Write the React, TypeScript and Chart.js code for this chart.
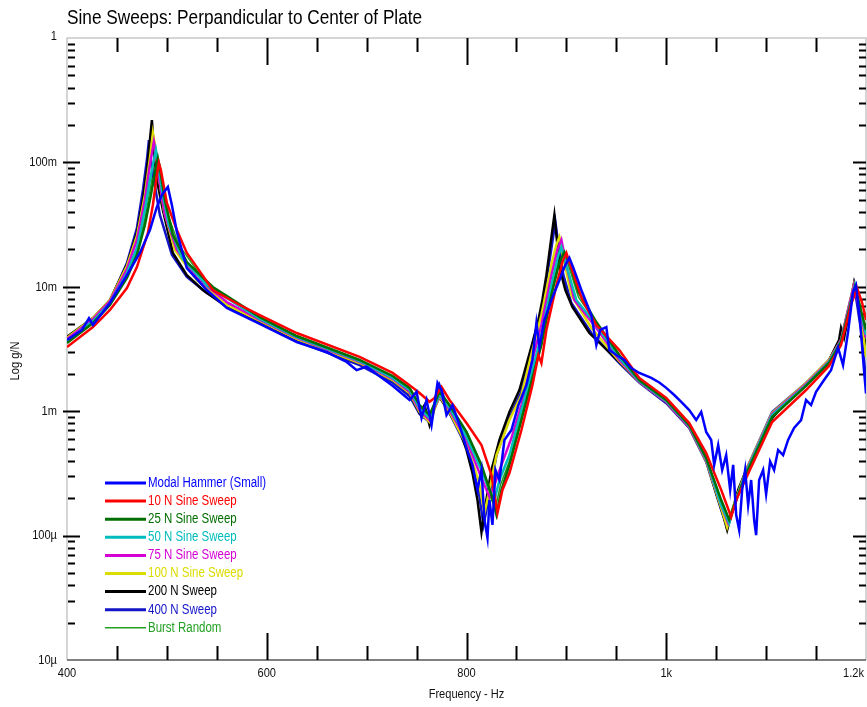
import React, { useEffect, useRef } from "react";
import { Chart, registerables } from "chart.js";

Chart.register(...registerables);

type Pt = [number, number];

// ---- Data (frequency Hz, response g/N) ----
const modalHammer: Pt[] = [
  [400, 0.00374], [415, 0.0045], [422, 0.0056], [426, 0.00493], [443, 0.00741], [460, 0.0124],
  [473, 0.0187], [483, 0.0286], [490, 0.0438], [495, 0.0547], [501, 0.0634], [505, 0.0455],
  [510, 0.0276], [520, 0.0141], [540, 0.00942], [560, 0.00676], [593, 0.00504], [630, 0.0036],
  [660, 0.00299], [680, 0.00249], [690, 0.00214], [700, 0.00228], [726, 0.0016], [743, 0.00123],
  [750, 0.00143], [755, 0.000882], [760, 0.00123], [765, 0.000774], [771, 0.00169], [775, 0.00148],
  [780, 0.000932], [786, 0.00112], [793, 0.000774], [800, 0.000506], [806, 0.00037], [811, 0.000233],
  [815, 0.000337], [818, 0.000134], [821, 0.0000957], [823, 0.000193], [826, 0.000122], [829, 0.000337],
  [833, 0.00028], [838, 0.000587], [845, 0.000706], [852, 0.00112], [860, 0.00162], [866, 0.00258],
  [870, 0.00512], [873, 0.00328], [878, 0.00541], [885, 0.00783], [893, 0.0113], [899, 0.015],
  [903, 0.0171], [907, 0.0142], [915, 0.00942], [925, 0.00593], [930, 0.0034], [934, 0.0045],
  [940, 0.00475], [943, 0.0031], [950, 0.00283], [958, 0.00258], [965, 0.00222], [973, 0.00203],
  [985, 0.00185], [993, 0.0017], [1000, 0.00154], [1008, 0.00135], [1015, 0.00119], [1023, 0.00102],
  [1030, 0.000849], [1035, 0.000986], [1040, 0.000681], [1045, 0.000587], [1048, 0.00037], [1052, 0.000535],
  [1056, 0.000337], [1060, 0.000444], [1064, 0.000233], [1067, 0.00037], [1070, 0.000147], [1073, 0.000111],
  [1076, 0.000233], [1079, 0.000337], [1082, 0.000176], [1085, 0.00028], [1088, 0.000134], [1090, 0.000101],
  [1093, 0.00028], [1097, 0.000337], [1100, 0.000215], [1104, 0.000395], [1108, 0.000337], [1112, 0.000488],
  [1117, 0.000444], [1122, 0.000587], [1128, 0.000733], [1135, 0.000849], [1140, 0.00123], [1145, 0.00112],
  [1150, 0.00143], [1158, 0.00178], [1165, 0.00214], [1172, 0.00325], [1177, 0.00235], [1182, 0.0043],
  [1187, 0.00908], [1190, 0.0103], [1194, 0.00541], [1198, 0.00214], [1200, 0.00139],
];

const sweep10N: Pt[] = [
  [400, 0.00328], [426, 0.00475], [443, 0.00651], [460, 0.00977], [470, 0.0144], [481, 0.0271],
  [486, 0.0455], [490, 0.0792], [492, 0.0989], [494, 0.0869], [500, 0.0472], [510, 0.0286],
  [520, 0.0187], [546, 0.00942], [573, 0.00714], [593, 0.00593], [630, 0.00425], [693, 0.00273],
  [726, 0.00203], [743, 0.00162], [753, 0.0014], [763, 0.00119], [768, 0.00128], [775, 0.00157],
  [783, 0.00123], [800, 0.000803], [815, 0.000535], [825, 0.000307], [831, 0.000152], [836, 0.000233],
  [843, 0.000318], [855, 0.000706], [866, 0.00162], [872, 0.00283], [875, 0.00244], [880, 0.0045],
  [890, 0.0103], [896, 0.0158], [900, 0.0187], [904, 0.015], [916, 0.00783], [930, 0.00493],
  [953, 0.0031], [973, 0.00185], [1000, 0.00128], [1023, 0.000803], [1040, 0.000461], [1055, 0.000233],
  [1065, 0.000141], [1070, 0.000193], [1080, 0.00029], [1093, 0.000488], [1106, 0.000818], [1140, 0.00148],
  [1163, 0.00231], [1175, 0.0034], [1185, 0.0072], [1191, 0.00977], [1196, 0.0075], [1200, 0.00541],
];

const sweep25N: Pt[] = [
  [400, 0.00353], [426, 0.00512], [443, 0.00714], [460, 0.0118], [470, 0.018], [478, 0.0314],
  [484, 0.0547], [488, 0.0837], [491, 0.108], [493, 0.0902], [498, 0.0499], [506, 0.0261],
  [520, 0.0158], [546, 0.00996], [593, 0.00571], [630, 0.00402], [693, 0.00258], [726, 0.00192],
  [743, 0.00154], [753, 0.00112], [763, 0.000932], [773, 0.00143], [783, 0.00112], [800, 0.000681],
  [815, 0.00037], [825, 0.000212], [830, 0.000147], [835, 0.000233], [843, 0.00037], [855, 0.000849],
  [866, 0.00185], [875, 0.0034], [885, 0.00859], [893, 0.0158], [898, 0.019], [903, 0.0158],
  [912, 0.00908], [930, 0.00521], [953, 0.00283], [973, 0.00178], [1000, 0.00123], [1023, 0.000774],
  [1040, 0.000421], [1055, 0.000193], [1063, 0.000134], [1068, 0.000176], [1080, 0.000313], [1106, 0.000898],
  [1140, 0.0016], [1163, 0.00244], [1175, 0.0036], [1189, 0.00996], [1200, 0.0045],
];

const sweep50N: Pt[] = [
  [400, 0.00366], [426, 0.00531], [443, 0.00741], [460, 0.0129], [470, 0.0205], [478, 0.0414],
  [483, 0.0722], [487, 0.1045], [489, 0.126], [491, 0.1007], [495, 0.06], [502, 0.0314],
  [515, 0.0171], [540, 0.0103], [593, 0.00551], [630, 0.00395], [693, 0.00253], [726, 0.00185],
  [743, 0.00148], [753, 0.00106], [763, 0.000882], [773, 0.00137], [783, 0.00106], [800, 0.000621],
  [815, 0.000337], [823, 0.000233], [828, 0.000193], [833, 0.00028], [843, 0.000444], [855, 0.00102],
  [866, 0.00214], [875, 0.0041], [885, 0.0103], [892, 0.018], [895, 0.0209], [899, 0.0158],
  [910, 0.00783], [930, 0.00493], [953, 0.00268], [973, 0.00175], [1000, 0.00121], [1023, 0.00076],
  [1040, 0.000413], [1055, 0.000176], [1063, 0.000126], [1068, 0.000176], [1080, 0.000325], [1106, 0.000932],
  [1140, 0.00162], [1163, 0.00249], [1175, 0.00366], [1189, 0.0103], [1200, 0.0041],
];

const sweep75N: Pt[] = [
  [400, 0.0038], [426, 0.00551], [443, 0.00769], [460, 0.0139], [470, 0.0238], [478, 0.0499],
  [483, 0.0953], [487, 0.146], [489, 0.121], [492, 0.075], [498, 0.0378], [510, 0.0198],
  [530, 0.0118], [560, 0.00755], [593, 0.00541], [630, 0.00388], [693, 0.00249], [726, 0.00182],
  [743, 0.00143], [753, 0.00102], [763, 0.000849], [773, 0.00135], [783, 0.00102], [800, 0.000587],
  [815, 0.00029], [823, 0.000204], [828, 0.000255], [835, 0.00037], [845, 0.000609], [855, 0.00112],
  [866, 0.00258], [875, 0.00493], [885, 0.0124], [891, 0.0198], [895, 0.0238], [899, 0.0164],
  [908, 0.00783], [930, 0.00467], [953, 0.00258], [973, 0.00172], [1000, 0.00119], [1023, 0.000746],
  [1040, 0.000405], [1055, 0.000176], [1062, 0.000126], [1067, 0.000161], [1080, 0.00033], [1106, 0.000949],
  [1140, 0.00166], [1163, 0.00253], [1175, 0.00374], [1188, 0.0103], [1200, 0.00389],
];

const sweep100N: Pt[] = [
  [400, 0.00388], [426, 0.00561], [443, 0.00783], [460, 0.0147], [470, 0.0256], [478, 0.0547],
  [483, 0.108], [486, 0.172], [488, 0.138], [491, 0.0869], [497, 0.0414], [508, 0.0198],
  [530, 0.0113], [560, 0.00714], [593, 0.00531], [630, 0.0038], [693, 0.00244], [726, 0.00178],
  [743, 0.0014], [753, 0.000986], [763, 0.000818], [773, 0.00132], [783, 0.000986], [800, 0.000535],
  [812, 0.00028], [818, 0.000152], [823, 0.000233], [830, 0.000444], [843, 0.000849], [855, 0.00135],
  [866, 0.0031], [875, 0.00593], [885, 0.015], [890, 0.0217], [893, 0.0251], [897, 0.0171],
  [905, 0.00859], [925, 0.00467], [953, 0.00253], [973, 0.00172], [1000, 0.00119], [1023, 0.000746],
  [1040, 0.000398], [1055, 0.000167], [1061, 0.000117], [1066, 0.000161], [1080, 0.000337], [1106, 0.000968],
  [1140, 0.00169], [1163, 0.00258], [1175, 0.00374], [1188, 0.0105], [1193, 0.00783], [1200, 0.00273],
];

const sweep200N: Pt[] = [
  [400, 0.00396], [426, 0.00561], [443, 0.00783], [460, 0.015], [470, 0.0271], [476, 0.0499],
  [480, 0.0869], [483, 0.151], [485, 0.219], [487, 0.126], [488, 0.1045], [490, 0.0722],
  [496, 0.0414], [506, 0.0187], [520, 0.0124], [536, 0.00942], [560, 0.00689], [593, 0.00521],
  [630, 0.00374], [693, 0.00244], [726, 0.00178], [743, 0.0014], [753, 0.000968], [758, 0.00112],
  [763, 0.000774], [768, 0.00106], [773, 0.0013], [783, 0.000968], [793, 0.000706], [800, 0.000488],
  [806, 0.000318], [811, 0.000193], [815, 0.000107], [819, 0.000176], [825, 0.000337], [833, 0.000587],
  [843, 0.000986], [853, 0.00148], [866, 0.00353], [872, 0.00541], [876, 0.00783], [880, 0.0124],
  [884, 0.0217], [888, 0.0378], [891, 0.0217], [893, 0.0144], [899, 0.00942], [906, 0.00689],
  [923, 0.00425], [953, 0.00249], [973, 0.00172], [1000, 0.00119], [1023, 0.000746], [1040, 0.000405],
  [1050, 0.00022], [1057, 0.000147], [1061, 0.000111], [1065, 0.000147], [1072, 0.000233], [1080, 0.000337],
  [1093, 0.00054], [1106, 0.00088], [1123, 0.00126], [1140, 0.00162], [1163, 0.00258], [1173, 0.00374],
  [1175, 0.00467], [1178, 0.00389], [1182, 0.00561], [1188, 0.0107], [1192, 0.00783], [1196, 0.0045],
  [1200, 0.0034],
];

const sweep400N: Pt[] = [
  [400, 0.00374], [426, 0.00541], [443, 0.00769], [460, 0.0155], [470, 0.0297], [476, 0.06],
  [480, 0.1045], [482, 0.151], [484, 0.1045], [487, 0.0722], [493, 0.0378], [505, 0.0181],
  [520, 0.012], [540, 0.00891], [593, 0.00512], [630, 0.00366], [693, 0.00235], [726, 0.0017],
  [743, 0.00132], [753, 0.000949], [763, 0.000818], [773, 0.00162], [783, 0.000968], [800, 0.000515],
  [812, 0.000233], [817, 0.000122], [822, 0.000193], [830, 0.000444], [843, 0.000882], [855, 0.00143],
  [866, 0.0034], [875, 0.00651], [884, 0.018], [889, 0.0332], [892, 0.0217], [897, 0.0124],
  [905, 0.00741], [925, 0.00425], [953, 0.00244], [973, 0.0017], [1000, 0.00116], [1023, 0.000733],
  [1040, 0.000391], [1055, 0.000161], [1061, 0.000115], [1066, 0.000155], [1080, 0.000337], [1106, 0.000986],
  [1140, 0.00169], [1163, 0.00258], [1175, 0.00374], [1188, 0.0105], [1195, 0.0045], [1200, 0.00178],
];

const burstRandom: Pt[] = [
  [400, 0.0036], [443, 0.00728], [460, 0.0124], [470, 0.019], [478, 0.0357], [484, 0.0658],
  [488, 0.108], [490, 0.115], [493, 0.0792], [500, 0.0399], [512, 0.0217], [540, 0.0105],
  [593, 0.00561], [630, 0.00402], [693, 0.00258], [726, 0.00188], [743, 0.00151], [753, 0.0011],
  [763, 0.000916], [773, 0.0014], [783, 0.0011], [800, 0.000656], [815, 0.000349], [825, 0.000193],
  [829, 0.000167], [834, 0.000255], [843, 0.000398], [855, 0.000932], [866, 0.00198], [875, 0.00374],
  [885, 0.00942], [893, 0.0171], [897, 0.0198], [902, 0.015], [912, 0.00828], [930, 0.00512],
  [953, 0.00278], [973, 0.00178], [1000, 0.00123], [1023, 0.000774], [1040, 0.000421], [1055, 0.000186],
  [1063, 0.000131], [1068, 0.000173], [1080, 0.000318], [1106, 0.000916], [1140, 0.0016], [1163, 0.00249],
  [1175, 0.0036], [1189, 0.0101], [1200, 0.00433],
];

const seriesNames = [
  "Modal Hammer (Small)", "10 N Sine Sweep", "25 N Sine Sweep", "50 N Sine Sweep", "75 N Sine Sweep",
  "100 N Sine Sweep", "200 N Sweep", "400 N Sweep", "Burst Random",
];
const seriesData = [modalHammer, sweep10N, sweep25N, sweep50N, sweep75N, sweep100N, sweep200N, sweep400N, burstRandom];
const seriesColors = ["#0000ff", "#ff0000", "#006e00", "#00bcbc", "#d400d4", "#dcdc00", "#000000", "#1414c8", "#22a022"];
const seriesWidths = [2.5, 2.5, 2.5, 2.5, 2.5, 2.5, 2.5, 2.5, 1.5];

const xMajorTicks = [400, 600, 800, 1000, 1200];
const xTickLabels = ["400", "600", "800", "1k", "1.2k"];
const xMinorTicks = [450, 500, 550, 650, 700, 750, 850, 900, 950, 1050, 1100, 1150];
const yDecades = [1e-5, 1e-4, 1e-3, 1e-2, 1e-1, 1];
const yTickLabels = ["10µ", "100µ", "1m", "10m", "100m", "1"];
const yMinorMultipliers = [2, 3, 4, 5, 6, 7, 8, 9];

const titleText = "Sine Sweeps: Perpandicular to Center of Plate";
const xTitle = "Frequency - Hz";
const yTitle = "Log g/N";

const FONT = '"Liberation Sans", Arial, sans-serif';
const SQUEEZE = 0.82; // narrow face look

function narrowText(ctx: CanvasRenderingContext2D, text: string, x: number, y: number, align: CanvasTextAlign, rot = 0) {
  ctx.save();
  ctx.translate(x, y);
  if (rot) ctx.rotate(rot);
  ctx.scale(SQUEEZE, 1);
  ctx.textAlign = align;
  ctx.textBaseline = "middle";
  ctx.fillText(text, 0, 0);
  ctx.restore();
}

const decorPlugin = {
  id: "decor",
  beforeDatasetsDraw(chart: any) {
    const { ctx, chartArea: a, scales } = chart;
    const xs = scales.x;
    const ys = scales.y;
    ctx.save();
    // frame
    ctx.lineWidth = 1.5;
    ctx.strokeStyle = "#c8c8c8";
    ctx.beginPath();
    ctx.moveTo(a.left, a.bottom);
    ctx.lineTo(a.left, a.top);
    ctx.lineTo(a.right, a.top);
    ctx.lineTo(a.right, a.bottom);
    ctx.stroke();
    ctx.strokeStyle = "#808080";
    ctx.lineWidth = 2;
    ctx.beginPath();
    ctx.moveTo(a.left, a.bottom);
    ctx.lineTo(a.right, a.bottom);
    ctx.stroke();

    ctx.strokeStyle = "#000";
    ctx.lineWidth = 2;
    ctx.beginPath();
    const xTicks = [...xMinorTicks.map((v) => [v, 14]), ...xMajorTicks.slice(1, -1).map((v) => [v, 27])];
    for (const [v, len] of xTicks) {
      const px = Math.round(xs.getPixelForValue(v)) + 0.5;
      ctx.moveTo(px, a.bottom);
      ctx.lineTo(px, a.bottom - len);
      ctx.moveTo(px, a.top);
      ctx.lineTo(px, a.top + len);
    }
    for (let d = 0; d < yDecades.length; d++) {
      const base = yDecades[d];
      const py = Math.round(ys.getPixelForValue(base)) + 0.5;
      if (d > 0 && d < yDecades.length - 1) {
        ctx.moveTo(a.left - 4, py);
        ctx.lineTo(a.left + 13, py);
        ctx.moveTo(a.right - 13, py);
        ctx.lineTo(a.right, py);
      }
      if (d < yDecades.length - 1) {
        for (const m of yMinorMultipliers) {
          const y = Math.round(ys.getPixelForValue(base * m)) + 0.5;
          ctx.moveTo(a.left + 1, y);
          ctx.lineTo(a.left + 8, y);
          ctx.moveTo(a.right - 7, y);
          ctx.lineTo(a.right, y);
        }
      }
    }
    ctx.stroke();
    ctx.restore();
  },
  afterDraw(chart: any) {
    const { ctx, chartArea: a, scales } = chart;
    const xs = scales.x;
    const ys = scales.y;
    ctx.save();
    ctx.fillStyle = "#000";
    // title
    ctx.font = `21px ${FONT}`;
    narrowText(ctx, titleText, a.left, 18, "left");

    // tick labels
    ctx.font = `13.5px ${FONT}`;
    ctx.fillStyle = "#111";
    xMajorTicks.forEach((v, i) => {
      const last = i === xMajorTicks.length - 1;
      narrowText(ctx, xTickLabels[i], last ? a.right - 2 : xs.getPixelForValue(v), a.bottom + 13, last ? "right" : "center");
    });
    yDecades.forEach((v, i) => {
      const py = ys.getPixelForValue(v);
      narrowText(ctx, yTickLabels[i], a.left - 10, i === yDecades.length - 1 ? py - 2 : py, "right");
    });
    // axis titles
    narrowText(ctx, xTitle, (a.left + a.right) / 2, a.bottom + 34, "center");
    narrowText(ctx, yTitle, 15, 361, "center", -Math.PI / 2);

    // legend
    ctx.font = `14px ${FONT}`;
    seriesNames.forEach((name, i) => {
      const y = 483 + i * 18.1;
      ctx.strokeStyle = seriesColors[i];
      ctx.lineWidth = i === seriesNames.length - 1 ? 1.5 : 3;
      ctx.beginPath();
      ctx.moveTo(105, y);
      ctx.lineTo(146, y);
      ctx.stroke();
      ctx.fillStyle = seriesColors[i];
      narrowText(ctx, name, 148, y, "left");
    });
    ctx.restore();
  },
};

export default function App() {
  const ref = useRef<HTMLCanvasElement>(null);
  useEffect(() => {
    document.body.style.margin = "0";
    const datasets = seriesData.map((d, i) => ({
      label: seriesNames[i],
      data: d.map(([x, y]) => ({ x, y })),
      borderColor: seriesColors[i],
      backgroundColor: seriesColors[i],
      borderWidth: seriesWidths[i],
      pointRadius: 0,
      tension: 0,
      fill: false,
    }));
    const chart = new Chart(ref.current as HTMLCanvasElement, {
      type: "line",
      data: { datasets },
      options: {
        animation: false,
        responsive: false,
        events: [],
        layout: { padding: { left: 67, top: 38, right: 1, bottom: 47 } },
        scales: {
          x: { type: "linear", min: 400, max: 1200, display: false },
          y: { type: "logarithmic", min: 1e-5, max: 1, display: false },
        },
        plugins: {
          legend: { display: false },
          tooltip: { enabled: false },
          title: { display: false },
        },
      },
      plugins: [decorPlugin],
    } as any);
    return () => chart.destroy();
  }, []);
  return <canvas ref={ref} width={867} height={707} style={{ display: "block" }} />;
}
